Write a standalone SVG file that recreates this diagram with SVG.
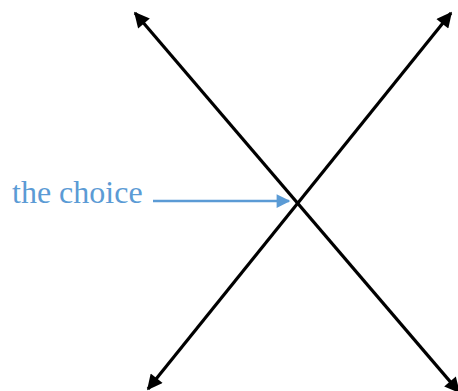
<svg xmlns="http://www.w3.org/2000/svg" width="458" height="391" viewBox="0 0 458 391">
<defs>
<marker id="ab" viewBox="0 0 10 10" refX="9" refY="5" markerWidth="5.5" markerHeight="4.8" orient="auto-start-reverse" markerUnits="strokeWidth"><path d="M0,0 L10,5 L0,10 z" fill="#000"/></marker>
<marker id="ablue" viewBox="0 0 10 10" refX="9" refY="5" markerWidth="6.5" markerHeight="5.5" orient="auto" markerUnits="strokeWidth"><path d="M0,0 L10,5 L0,10 z" fill="#5B9BD5"/></marker>
<style>
.ln{stroke:#000;stroke-width:3.2;fill:none}
.lbl{font-family:"Liberation Serif","Times New Roman",serif;font-size:32px;fill:#5B9BD5}
</style>
</defs>
<rect width="458" height="391" fill="#fff"/>
<g id="connectors">
<line class="ln" x1="135" y1="13" x2="459" y2="392" marker-start="url(#ab)" marker-end="url(#ab)"/>
<line class="ln" x1="451" y1="13" x2="148" y2="389" marker-start="url(#ab)" marker-end="url(#ab)"/>
<line x1="153" y1="201" x2="289" y2="201" stroke="#5B9BD5" stroke-width="2.5" marker-end="url(#ablue)"/>
</g>
<g id="label">
<text class="lbl" x="12" y="203">the choice</text>
</g>
</svg>
